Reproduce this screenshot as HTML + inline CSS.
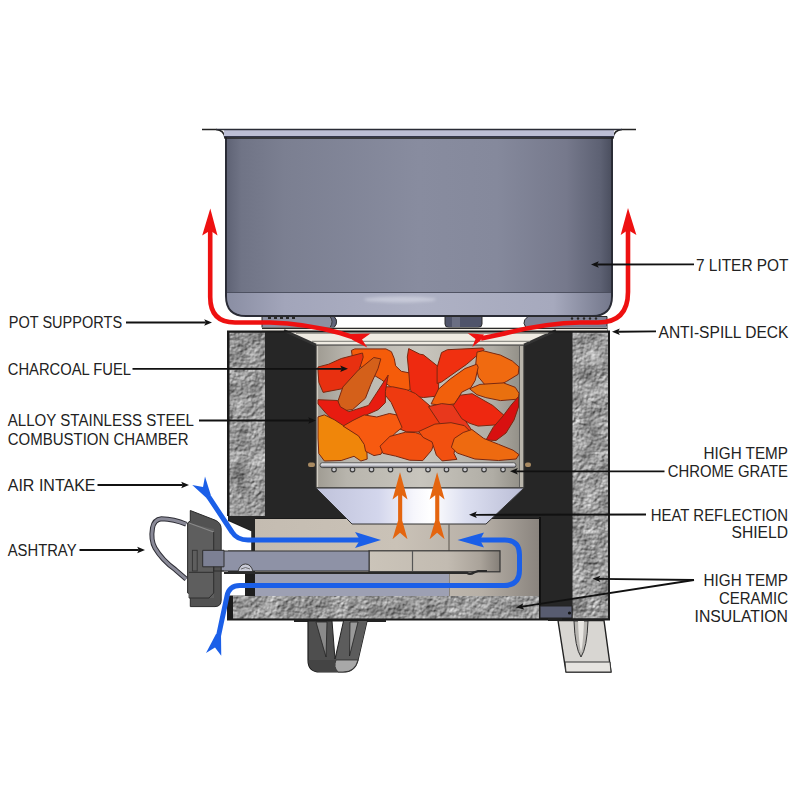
<!DOCTYPE html>
<html><head><meta charset="utf-8">
<style>
html,body{margin:0;padding:0;background:#fff;}
body{width:800px;height:800px;overflow:hidden;position:relative;}
svg{position:absolute;left:0;top:0;}
.lbl{font-family:"Liberation Sans",sans-serif;font-size:15.6px;fill:#222;}
</style></head><body>
<svg width="800" height="800" viewBox="0 0 800 800">
<defs>
  <linearGradient id="potG" x1="0" x2="1" y1="0" y2="0">
    <stop offset="0" stop-color="#5e6274"/>
    <stop offset="0.04" stop-color="#707486"/>
    <stop offset="0.15" stop-color="#7b7f91"/>
    <stop offset="0.5" stop-color="#888c9f"/>
    <stop offset="0.7" stop-color="#85899c"/>
    <stop offset="0.88" stop-color="#76798c"/>
    <stop offset="0.97" stop-color="#5d6173"/>
    <stop offset="1" stop-color="#4a4e5e"/>
  </linearGradient>
  <linearGradient id="potB" x1="0" x2="1" y1="0" y2="0">
    <stop offset="0" stop-color="#8a8ea3"/>
    <stop offset="0.15" stop-color="#a2a5ba"/>
    <stop offset="0.5" stop-color="#aeb1c4"/>
    <stop offset="0.85" stop-color="#a6a9bd"/>
    <stop offset="1" stop-color="#74788c"/>
  </linearGradient>
  <linearGradient id="chamG" x1="0" x2="1" y1="0" y2="0">
    <stop offset="0" stop-color="#9f9b92"/>
    <stop offset="0.15" stop-color="#b8b5ad"/>
    <stop offset="0.5" stop-color="#c8c5bd"/>
    <stop offset="0.85" stop-color="#b0ada5"/>
    <stop offset="1" stop-color="#8f8c84"/>
  </linearGradient>
  <linearGradient id="funG" x1="0" x2="1" y1="0" y2="0">
    <stop offset="0" stop-color="#bfc2da"/>
    <stop offset="0.3" stop-color="#d3d6ec"/>
    <stop offset="0.47" stop-color="#f6f6fc"/>
    <stop offset="0.55" stop-color="#ffffff"/>
    <stop offset="0.72" stop-color="#dcdff0"/>
    <stop offset="1" stop-color="#babdd6"/>
  </linearGradient>
  <linearGradient id="tanG" x1="0" x2="1" y1="0" y2="0">
    <stop offset="0" stop-color="#c4bcb1"/>
    <stop offset="0.5" stop-color="#cac2b7"/>
    <stop offset="0.8" stop-color="#b6afa6"/>
    <stop offset="1" stop-color="#8a847e"/>
  </linearGradient>
  <linearGradient id="drwG" x1="0" x2="1" y1="0" y2="0">
    <stop offset="0" stop-color="#cbc4b9"/>
    <stop offset="0.6" stop-color="#c2bbb1"/>
    <stop offset="0.85" stop-color="#aaa39a"/>
    <stop offset="1" stop-color="#857f78"/>
  </linearGradient>
  <linearGradient id="rodG" x1="0" x2="0" y1="0" y2="1">
    <stop offset="0" stop-color="#f4f4f6"/>
    <stop offset="0.5" stop-color="#d0d0d6"/>
    <stop offset="1" stop-color="#60606a"/>
  </linearGradient>
  <filter id="blur2" x="-50%" y="-200%" width="200%" height="500%"><feGaussianBlur stdDeviation="1.6"/></filter>
  <filter id="rock" x="0" y="0" width="100%" height="100%" color-interpolation-filters="sRGB">
    <feTurbulence type="fractalNoise" baseFrequency="0.28" numOctaves="4" seed="11" result="n"/>
    <feDiffuseLighting in="n" surfaceScale="0.9" diffuseConstant="1.1" lighting-color="#ffffff" result="l">
      <feDistantLight azimuth="235" elevation="45"/>
    </feDiffuseLighting>
    <feTurbulence type="fractalNoise" baseFrequency="0.06" numOctaves="2" seed="5" result="n2"/>
    <feColorMatrix in="n2" type="matrix" values="0 0 0 0 0  0 0 0 0 0  0 0 0 0 0  1 0 0 0 0" result="n2a"/>
    <feComposite in="l" in2="n2" operator="arithmetic" k1="0" k2="0.34" k3="0.3" k4="-0.11" result="g0"/>
    <feColorMatrix in="g0" type="matrix" values="1 0 0 0 0  1 0 0 0 0  1 0 0 0 0  0 0 0 0 1" result="g"/>
    <feComposite in="g" in2="SourceGraphic" operator="in"/>
  </filter>
</defs>

<!-- POT -->
<g id="pot">
  <path d="M226 134 L612 134 L612 296 Q612 316 592 316 L246 316 Q226 316 226 296 Z" fill="url(#potG)" stroke="#2a2c36" stroke-width="2"/>
  <path d="M227 293 L611 293 L611 296 Q611 315 592 315 L246 315 Q227 315 227 296 Z" fill="url(#potB)"/>
  <line x1="227" y1="292.5" x2="611" y2="292.5" stroke="#4a4d5c" stroke-width="0.9"/>
  <ellipse cx="400" cy="299.5" rx="36" ry="3" fill="#eef0f8" opacity="0.4" filter="url(#blur2)"/>
  <path d="M202 129.5 L216 129.5 Q224 130 225 138 L613 138 Q614 130 622 129.5 L636 129.5" fill="none" stroke="#222" stroke-width="1.6"/>
  <rect x="224" y="130" width="390" height="6" fill="#bcbed4"/>
  <line x1="224" y1="136.5" x2="614" y2="136.5" stroke="#33364a" stroke-width="1"/>
  <line x1="216" y1="129.5" x2="622" y2="129.5" stroke="#2a2c36" stroke-width="1.4"/>
</g>

<!-- POT SUPPORTS + DECK -->
<g id="deck">
  <path d="M262 316.5 L334 316.5 Q339 321.5 334 327.5 L262 327.5 Z" fill="#8c90a2" stroke="#2a2a2a" stroke-width="1"/>
  <g fill="#2a2a2a"><rect x="268" y="317" width="3" height="2"/><rect x="274" y="317" width="3" height="2"/><rect x="280" y="317" width="3" height="2"/><rect x="286" y="317" width="3" height="2"/><rect x="292" y="317" width="3" height="2"/></g>
  <path d="M330 316.5 L334 316.5 Q339 321.5 334 327.5 L330 327.5 Q334 321.5 330 316.5 Z" fill="#60647a" stroke="#2a2a2a" stroke-width="0.8"/>
  <path d="M445 316.5 L482 316.5 L482 324 Q482 327.5 478 327.5 L449 327.5 Q445 327.5 445 324 Z" fill="#50546a" stroke="#2a2a2a" stroke-width="1"/>
  <path d="M452 317 L460 317 L460 327 L452 327 Z" fill="#6a6e82"/>
  <path d="M528 316.5 L607 316.5 L607 331 L530 331 Q519 323 528 316.5 Z" fill="#7e8296" stroke="#2a2a2a" stroke-width="1"/>
  <g fill="#2a2a2a"><circle cx="572" cy="318.5" r="1.2"/><circle cx="578" cy="318.5" r="1.2"/><circle cx="584" cy="318.5" r="1.2"/><circle cx="590" cy="318.5" r="1.2"/><circle cx="596" cy="318.5" r="1.2"/></g>
  <path d="M535 326 L607 326 L607 331 L537 331 Z" fill="#7a7e90"/>
  <rect x="262" y="327.5" width="345" height="18" fill="#f1ede4"/>
  <line x1="262" y1="328.3" x2="607" y2="328.3" stroke="#2a2a2a" stroke-width="1.2"/>
</g>

<!-- STOVE BODY -->
<g id="body">
  <rect x="228" y="331" width="381" height="289" fill="#1e1e1e"/>
  <!-- insulation -->
  <rect x="229.5" y="332.5" width="36" height="184" fill="#9e9e9e" filter="url(#rock)"/>
  <rect x="572.5" y="332.5" width="35.5" height="286" fill="#9e9e9e" filter="url(#rock)"/>
  <rect x="233" y="595.5" width="306" height="23.5" fill="#9e9e9e" filter="url(#rock)"/>
  <!-- dark blocks -->
  <path d="M265 332 L287 331 L316 345 L316 488 L352 518 L255 518 L255 550 L252 550 L252 531 L229 520 L229 516 L265 516 Z" fill="#262626"/>
  <path d="M524 345 L556 331 L572 332 L572 606 L539 606 L539 519 L486 519 L524 488 Z" fill="#262626"/>
  <path d="M226 521.25 L228.75 521.25 L251.25 531.25 L251.25 550.5 L226 550.5 Z" fill="#fff"/>
  <!-- deck slopes -->
  <path d="M287 331 L556 331 L524 345 L316 345 Z" fill="#efebe2"/>
  <line x1="284" y1="330.5" x2="316" y2="345" stroke="#333" stroke-width="2.6"/>
  <line x1="556" y1="330.5" x2="524" y2="345" stroke="#333" stroke-width="2.6"/>
  <line x1="296" y1="333.3" x2="548" y2="333.3" stroke="#8a8a84" stroke-width="1"/>
  <line x1="312" y1="341.3" x2="530" y2="341.3" stroke="#7a7a74" stroke-width="1"/>
  <!-- chamber -->
  <rect x="316" y="345" width="208" height="143" fill="url(#chamG)" stroke="#333" stroke-width="1"/>
  <line x1="521.5" y1="346" x2="521.5" y2="487" stroke="#b9b5ab" stroke-width="3"/>
  <line x1="519.5" y1="346" x2="519.5" y2="487" stroke="#555" stroke-width="0.8"/>
  <line x1="317.5" y1="346" x2="317.5" y2="487" stroke="#d0ccc2" stroke-width="1.2"/>
  <!-- lower tan -->
  <rect x="255" y="519" width="284" height="77" fill="url(#tanG)"/>
  <!-- funnel -->
  <path d="M316 488 L524 488 L486 524 L352 524 Z" fill="url(#funG)" stroke="#333" stroke-width="1"/>
  <line x1="449" y1="524" x2="449" y2="596" stroke="#6a645c" stroke-width="1.2"/>
  <rect x="255" y="573" width="194" height="23" fill="#9da0b3"/>
  <rect x="222" y="572" width="23" height="23.5" fill="#fff"/>
  <rect x="245" y="572" width="10" height="24" fill="#1e1e1e"/>
  <!-- drawer bar -->
  <rect x="369" y="550.8" width="131" height="21" fill="url(#drwG)" stroke="#333" stroke-width="1.2"/>
  <line x1="412.5" y1="551" x2="412.5" y2="571" stroke="#555" stroke-width="1.2"/>
  <rect x="202" y="551" width="167" height="20" fill="#8e92a6" stroke="#333" stroke-width="1"/>
  <path d="M238 571.5 Q240 564 245.5 564 Q251 564 253 571.5 Z" fill="#c8cad6" stroke="#333" stroke-width="0.9"/>
  <path d="M241 569 Q245.5 566 250 569" fill="none" stroke="#555" stroke-width="0.8"/>
  <path d="M224 572.8 L467 572.8 Q470 575 474 572.5 L478 571 L487 571" fill="none" stroke="#2a2a2a" stroke-width="2.2"/>
  <line x1="540" y1="517" x2="540" y2="606" stroke="#111" stroke-width="2"/>
  <line x1="255" y1="518.5" x2="346" y2="518.5" stroke="#1a1a1a" stroke-width="1.2"/>
  <line x1="492" y1="518.5" x2="540" y2="518.5" stroke="#1a1a1a" stroke-width="1.2"/>
  <rect x="540" y="606" width="32" height="12" fill="#585c70" stroke="#222" stroke-width="1"/>
  <circle cx="569.5" cy="613" r="1.6" fill="#111"/>
  <path d="M228 516 L228 331.5 L609 331.5 L609 619.5 L228 619.5 L228 596" fill="none" stroke="#1a1a1a" stroke-width="2"/>
  <rect x="228" y="596" width="5" height="24" fill="#1a1a1a"/>
</g>

<!-- LEGS -->
<g id="legs">
  <rect x="294" y="619.5" width="92" height="2.5" fill="#222"/>
  <path d="M308 621 L367 621 L358 660 Q355 672 343 672 L320 672 Q308 672 308 660 Z" fill="#4e4e4e" stroke="#1e1e1e" stroke-width="1.2"/>
  <path d="M343 621 L367 621 L358 660 L336 660 Z" fill="#5c5c5c"/>
  <path d="M336 660 L358 660 Q355 672 343 672 L338 672 Q333 667 336 660 Z" fill="#a8a8a8" stroke="#2a2a2a" stroke-width="0.8"/>
  <path d="M308.5 660 L336 660 Q333 667 338 672 L320 672 Q308.5 672 308.5 660 Z" fill="#444"/>
  <path d="M316 622 L327 622 L326 657 Z" fill="#8a8a8a" stroke="#222" stroke-width="0.8"/>
  <path d="M350 622 L358 622 L349.5 656 Z" fill="#9a9a9a" stroke="#222" stroke-width="0.8"/>
  <path d="M332 621 L343.5 621 L335 659 Z" fill="#fff" stroke="#222" stroke-width="1"/>
  <rect x="548" y="618" width="14" height="3" fill="#222"/>
  <path d="M558 620.5 L604 620.5 L611 672 L566 672 Z" fill="#d8d6d2" stroke="#222" stroke-width="1.4"/>
  <path d="M565 662 L610 662 L611 672 L566 672 Z" fill="#e6e4e0" stroke="#333" stroke-width="1"/>
  <path d="M574 621 Q575 648 581 657 Q587 648 588 621 Z" fill="#b8b6b2" stroke="#333" stroke-width="1"/>
  <path d="M578 621 Q579 645 581 652 Q583 645 584 621 Z" fill="#e8e6e2"/>
</g>

<!-- CHARCOAL -->
<g id="coal" stroke="#7a2810" stroke-width="1" stroke-linejoin="round">
  <path d="M351.4 350.4 L354.9 348.9 L385.9 348.9 L391.4 351.7 L394.3 358.7 L395.6 365.8 L401.3 371.3 L412.5 373.5 L413.9 379.8 L412.5 388.2 L406.9 391.0 L394.3 389.6 L388.6 385.4 L381.6 379.8 L374.6 375.6 L359.2 365.8 L352.2 355.9 Z" fill="#f55c0a"/>
  <path d="M408.7 348.6 L419.9 354.2 L423.4 354.8 L438.1 366.5 L438.9 379.8 L438.1 396.0 L423.4 397.5 L414.4 396.4 L410.1 389.3 L408.7 371.0 L407.3 357.0 Z" fill="#ee2a10"/>
  <path d="M318.0 367.0 L328.7 364.2 L341.3 358.5 L362.5 353.0 L363.2 357.2 L359.6 368.4 L355.5 385.3 L345.6 388.1 L323.1 392.4 L318.9 382.5 L318.0 371.2 Z" fill="#e83010"/>
  <path d="M338.0 401.0 L342.9 387.0 L358.3 370.1 L373.8 357.5 L380.8 358.9 L378.0 368.7 L370.9 384.2 L365.4 398.3 L352.7 409.5 L342.9 410.9 L338.6 406.7 Z" fill="#d4601a"/>
  <path d="M437.1 367.3 L441.5 352.6 L447.4 349.7 L482.7 348.0 L484.2 349.7 L476.8 355.6 L466.5 364.4 L456.1 371.7 L441.5 382.0 L437.1 383.5 Z" fill="#f03010"/>
  <path d="M477.0 352.1 L482.9 350.7 L500.5 355.1 L512.3 361.0 L519.0 366.9 L518.2 374.3 L506.4 381.5 L494.6 387.4 L485.9 386.0 L478.5 377.1 L475.6 365.4 Z" fill="#f06a10"/>
  <path d="M431.1 403.9 L438.4 389.2 L450.2 379.0 L464.9 368.6 L476.7 364.2 L478.2 367.2 L475.2 380.4 L470.8 387.7 L461.9 392.1 L454.6 403.9 L441.4 405.4 Z" fill="#f2600c"/>
  <path d="M469.6 388.8 L479.9 384.4 L503.5 382.9 L515.2 387.3 L519.0 393.2 L518.1 399.1 L500.5 400.6 L485.8 397.6 L476.9 394.7 Z" fill="#e9700f"/>
  <path d="M384.3 394.0 L384.3 386.8 L392.7 386.8 L406.7 389.7 L415.4 393.5 L421.3 398.4 L431.6 407.3 L443.3 420.4 L437.5 427.8 L433.1 432.2 L406.7 431.9 L396.9 427.7 L394.1 422.0 L396.9 415.1 L391.2 402.5 Z" fill="#ee3a10"/>
  <path d="M318.0 399.7 L337.6 400.5 L340.4 406.8 L348.8 411.7 L368.5 405.4 L388.2 375.1 L385.4 391.3 L385.4 402.6 L378.4 409.6 L365.8 415.2 L354.5 420.8 L343.3 426.5 L334.8 422.2 L326.4 413.8 L318.0 404.0 Z" fill="#e81c10"/>
  <path d="M428.5 406.6 L441.7 403.6 L455.0 405.1 L463.8 418.4 L472.6 431.5 L471.1 433.0 L456.4 430.1 L440.2 424.2 Z" fill="#e8381c"/>
  <path d="M453.2 405.5 L460.4 395.2 L472.2 393.7 L492.8 405.5 L504.6 415.8 L507.5 421.7 L498.7 424.7 L478.1 426.1 L469.3 423.2 L461.9 418.8 Z" fill="#ee2810"/>
  <path d="M486 440 L493 427.5 L503 416 L511.2 405 L518.5 396.5 L518.5 407 L514 420 L506 433 L496 440.5 Z" fill="#d81010"/>
  <path d="M318.0 416.9 L324.4 414.9 L334.3 419.7 L344.1 426.1 L360.9 436.6 L366.6 443.7 L367.2 459.1 L360.9 461.0 L354.0 456.3 L341.2 460.5 L324.4 461.0 L318.8 453.5 L318.0 438.0 Z" fill="#f0860a"/>
  <path d="M343.1 426.1 L353.0 420.4 L364.2 414.9 L376.8 417.0 L389.4 413.5 L396.5 414.9 L402.1 427.5 L395.1 433.2 L386.7 443.0 L381.0 454.2 L374.0 455.6 L365.6 451.3 L364.2 444.4 L358.5 435.9 Z" fill="#f75a10"/>
  <path d="M380.0 446.2 L389.9 436.4 L405.4 432.2 L415.5 432.6 L424.2 435.6 L434.6 441.5 L431.6 450.3 L422.8 460.6 L409.6 460.2 L395.6 456.1 L382.9 453.3 Z" fill="#f25010"/>
  <path d="M418.7 431.5 L434.9 424.1 L451.0 422.7 L464.3 425.6 L471.7 433.0 L461.4 437.4 L455.5 444.8 L454.0 453.5 L456.9 459.4 L442.2 460.9 L436.3 455.0 L432.0 441.9 L423.1 437.4 Z" fill="#f25010"/>
  <path d="M451.4 447.2 L454.3 438.4 L463.2 432.5 L471.9 429.5 L483.7 438.4 L498.5 444.3 L513.1 450.2 L519.0 454.6 L516.1 459.0 L498.5 460.5 L474.9 459.0 L457.3 453.1 Z" fill="#ee6a10"/>
</g>

<!-- GRATE -->
<g id="grate">
  <g fill="#c8c8cc" stroke="#3a3a3a" stroke-width="1.1"><circle cx="334" cy="469.6" r="2.3"/><circle cx="352.5" cy="469.6" r="2.3"/><circle cx="371.5" cy="469.6" r="2.3"/><circle cx="390.5" cy="469.6" r="2.3"/><circle cx="409.5" cy="469.6" r="2.3"/><circle cx="428" cy="469.6" r="2.3"/><circle cx="446.5" cy="469.6" r="2.3"/><circle cx="465" cy="469.6" r="2.3"/><circle cx="484" cy="469.6" r="2.3"/><circle cx="503" cy="469.6" r="2.3"/></g>
  <rect x="320" y="462.8" width="196" height="4.8" rx="2.4" fill="url(#rodG)" stroke="#3a3a3a" stroke-width="0.8"/>
  <rect x="308" y="462.5" width="7" height="4.5" rx="2" fill="#a88a62"/>
  <rect x="525" y="462.5" width="6" height="4.5" rx="2" fill="#a88a62"/>
</g>

<!-- ORANGE ARROWS -->
<g fill="#e4650f">
  <path d="M400.0 472.2 L407.5 499.4 L402.2 495.2 L402.2 520.5 L407.5 539.3 L400.0 532.7 L392.5 539.3 L398.1 520.5 L398.1 495.2 L392.5 499.4 Z"/>
  <path d="M437.1 472.2 L444.6 499.4 L439.3 495.2 L439.3 520.5 L444.6 539.3 L437.1 532.7 L429.6 539.3 L435.2 520.5 L435.2 495.2 L429.6 499.4 Z"/>
</g>

<!-- ASHTRAY HANDLE -->
<g id="ashtray">
  <path d="M190.3 510.5 L215 520.1 Q221.2 522.5 221.2 529 L221.2 600 Q221.2 606.6 215 606.6 L190.3 606.6 L190.3 594.3 L187.6 592.9 L187.6 522.9 L190.3 521 Z" fill="#525252" stroke="#2a2a2a" stroke-width="1"/>
  <path d="M188.5 523 L214 529 L214 598 L188.5 598 Z" fill="#5e5e5e"/>
  <path d="M189 523 L213.7 532" stroke="#8a8a8a" stroke-width="1.2"/>
  <path d="M213.7 532 L213.7 593 L209 598 L189 598" fill="none" stroke="#2e2e2e" stroke-width="1"/>
  <path d="M189 572.3 L213.7 572.3" stroke="#2e2e2e" stroke-width="1"/>
  <rect x="192.4" y="550.3" width="4.8" height="20.7" fill="none" stroke="#333" stroke-width="0.9"/>
  <path d="M202.7 550.3 L224 550.3 L224 566.8 L202.7 566.8 Z" fill="#7c8094" stroke="#2e2e2e" stroke-width="1"/>
  <path d="M213.7 566.8 L213.7 571 L224 571" fill="none" stroke="#2e2e2e" stroke-width="1"/>
  <path d="M186.2 524.2 Q174 519 161.5 518.7 Q154 519.5 152.5 528 Q150.5 540 155 548 Q162 560 175.2 569.6 L186.2 579.2" fill="none" stroke="#2e2e36" stroke-width="5" stroke-linecap="butt"/>
  <path d="M186.2 524.2 Q174 519 161.5 518.7 Q154 519.5 152.5 528 Q150.5 540 155 548 Q162 560 175.2 569.6 L186.2 579.2" fill="none" stroke="#8a8a98" stroke-width="3" stroke-linecap="butt"/>
</g>

<!-- BLUE ARROWS -->
<g fill="none" stroke="#1b5fe8" stroke-width="5" stroke-linejoin="round">
  <path d="M208.5 496.5 L232 532 Q237 540 248 540 L360 540"/>
  <path d="M480 540 L505 540 Q519.5 540 519.5 555 L519.5 570 Q519.5 585.5 504 585.5 L240 585.5 Q229 585.5 227 596 L218.5 636"/>
</g>
<g fill="#1b5fe8">
  <path d="M381 540 L355 532 L360 540 L355 548 Z"/>
  <path d="M457.5 540 L484 532.5 L480 540 L484 547.5 Z"/>
  <path d="M192.25 485 L203 487 L205 476.5 L210.8 495 L207 498.5 Z"/>
  <path d="M216 634 L206 653 L215 647.5 L221.25 655.75 L221 634 Z"/>
</g>

<!-- RED ARROWS -->
<g id="red" fill="none" stroke="#ee1111" stroke-width="4.6" stroke-linecap="butt">
  <path d="M210.2 228 L210.2 297 Q210.2 322.5 235 322.5 L270 322.5 Q305 323.5 340 333 L354 337.5"/>
  <path d="M628 228 L628 292 Q628 322.5 598 322.5 L580 322.5 Q545 323 500 334.5 L481 338.5"/>
</g>
<g fill="#ee1111">
  <path d="M210.3 208.4 L217.5 235.6 L210.3 230.6 L202.2 235.6 Z"/>
  <path d="M628 208 L636.4 235 L628 230 L620.7 235 Z"/>
  <path d="M350 334 L370.5 333.5 L362 339.5 L367.25 347.5 L352.5 340 Z"/>
  <path d="M484 334.5 L467.75 333.25 L475.5 339 L472.3 347 L480 341 Z"/>
</g>

<!-- LABEL ARROWS -->
<g stroke="#111" stroke-width="1.8" fill="none">
  <line x1="126" y1="322.5" x2="205.80" y2="322.50"/>
  <line x1="132.5" y1="368.8" x2="341.80" y2="368.80"/>
  <line x1="199" y1="420.5" x2="309.80" y2="420.50"/>
  <line x1="97.5" y1="485" x2="182.80" y2="485.00"/>
  <line x1="79.5" y1="550" x2="138.80" y2="550.00"/>
  <line x1="694" y1="264.3" x2="597.20" y2="264.49"/>
  <line x1="656" y1="331.3" x2="618.20" y2="331.73"/>
  <line x1="664.5" y1="471.3" x2="516.20" y2="471.30"/>
  <line x1="646" y1="514.5" x2="475.20" y2="514.79"/>
  <line x1="694" y1="580" x2="598.70" y2="578.87"/>
  <line x1="694" y1="580" x2="522.13" y2="606.55"/>
</g>
<g fill="#111">
  <path d="M212.00 322.50 L204.20 325.70 L205.80 322.50 L204.20 319.30 Z"/>
  <path d="M348.00 368.80 L340.20 372.00 L341.80 368.80 L340.20 365.60 Z"/>
  <path d="M316.00 420.50 L308.20 423.70 L309.80 420.50 L308.20 417.30 Z"/>
  <path d="M189.00 485.00 L181.20 488.20 L182.80 485.00 L181.20 481.80 Z"/>
  <path d="M145.00 550.00 L137.20 553.20 L138.80 550.00 L137.20 546.80 Z"/>
  <path d="M591.00 264.50 L598.79 261.28 L597.20 264.49 L598.81 267.68 Z"/>
  <path d="M612.00 331.80 L619.76 328.51 L618.20 331.73 L619.84 334.91 Z"/>
  <path d="M510.00 471.30 L517.80 468.10 L516.20 471.30 L517.80 474.50 Z"/>
  <path d="M469.00 514.80 L476.79 511.59 L475.20 514.79 L476.81 517.99 Z"/>
  <path d="M592.50 578.80 L600.34 575.69 L598.70 578.87 L600.26 582.09 Z"/>
  <path d="M516.00 607.50 L523.22 603.15 L522.13 606.55 L524.20 609.47 Z"/>
</g>

<!-- LABELS -->
<g class="lbl">
  <text x="8.75" y="328.30" textLength="113.35" lengthAdjust="spacingAndGlyphs">POT SUPPORTS</text>
  <text x="7.75" y="374.75" textLength="123.25" lengthAdjust="spacingAndGlyphs">CHARCOAL FUEL</text>
  <text x="7.75" y="426.25" textLength="186.25" lengthAdjust="spacingAndGlyphs">ALLOY STAINLESS STEEL</text>
  <text x="7.75" y="444.75" textLength="180.75" lengthAdjust="spacingAndGlyphs">COMBUSTION CHAMBER</text>
  <text x="7.75" y="491.00" textLength="87.75" lengthAdjust="spacingAndGlyphs">AIR INTAKE</text>
  <text x="7.75" y="555.50" textLength="68.75" lengthAdjust="spacingAndGlyphs">ASHTRAY</text>
  <text x="696.00" y="270.50" textLength="92.50" lengthAdjust="spacingAndGlyphs">7 LITER POT</text>
  <text x="658.50" y="338.00" textLength="130.00" lengthAdjust="spacingAndGlyphs">ANTI-SPILL DECK</text>
  <text x="703.50" y="458.50" textLength="84.50" lengthAdjust="spacingAndGlyphs">HIGH TEMP</text>
  <text x="667.75" y="476.75" textLength="120.25" lengthAdjust="spacingAndGlyphs">CHROME GRATE</text>
  <text x="650.75" y="520.50" textLength="137.25" lengthAdjust="spacingAndGlyphs">HEAT REFLECTION</text>
  <text x="731.50" y="538.00" textLength="56.50" lengthAdjust="spacingAndGlyphs">SHIELD</text>
  <text x="703.50" y="586.25" textLength="84.50" lengthAdjust="spacingAndGlyphs">HIGH TEMP</text>
  <text x="719.00" y="604.25" textLength="69.00" lengthAdjust="spacingAndGlyphs">CERAMIC</text>
  <text x="694.50" y="621.75" textLength="93.50" lengthAdjust="spacingAndGlyphs">INSULATION</text>
</g>
</svg>
</body></html>
